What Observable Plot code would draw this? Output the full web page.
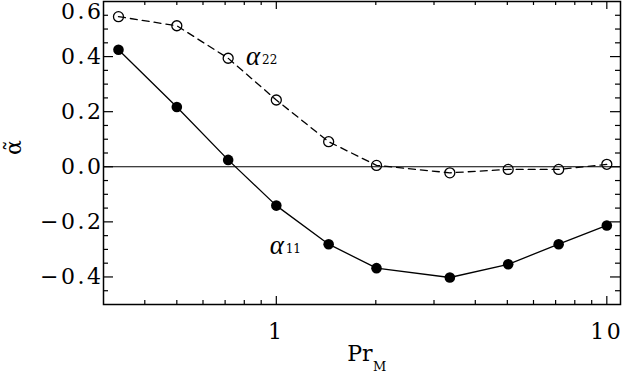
<!DOCTYPE html>
<html><head><meta charset="utf-8">
<script src="https://cdn.jsdelivr.net/npm/d3@7"></script>
<script src="https://cdn.jsdelivr.net/npm/@observablehq/plot@0.6"></script>
<style>
body{margin:0;background:#fff}
g[aria-label="y-axis tick label"] text, g[aria-label="x-axis tick label"] text {letter-spacing:2.5px}
</style>
</head><body><div id="chart"></div>
<script>
const prM    = [0.333, 0.5, 0.715, 1, 1.44, 2.01, 3.35, 5.03, 7.15, 10];
const alpha11 = [0.425, 0.217, 0.025, -0.141, -0.281, -0.368, -0.402, -0.354, -0.281, -0.213];
const alpha22 = [0.545, 0.512, 0.394, 0.2425, 0.091, 0.005, -0.022, -0.0095, -0.0095, 0.009];
const yLabelTicks = [-0.4, -0.2, 0, 0.2, 0.4];
const yTopLabel = [0.6];
const yMajor = [-0.4, -0.2, 0, 0.2, 0.4];
const yMinor = [-0.45, -0.35, -0.3, -0.25, -0.15, -0.1, -0.05, 0.05, 0.1, 0.15, 0.25, 0.3, 0.35, 0.45, 0.5, 0.55];
const xMajor = [1, 10];
const xMinor = [0.4, 0.5, 0.6, 0.7, 0.8, 0.9, 2, 3, 4, 5, 6, 7, 8, 9];
const seriesLabels = [
  {x: 0.81, y: 0.40, name: "α", sub: "22"},
  {x: 0.955, y: -0.286, name: "α", sub: "11"}
];

const d11 = prM.map((x, i) => ({x, y: alpha11[i]}));
const d22 = prM.map((x, i) => ({x, y: alpha22[i]}));
const fmt = d => d.toFixed(1).replace("-", "\u2212");
const FONT = "DejaVu Serif";
const H = 303, W = 517;

const chart = Plot.plot({
  width: 622, height: 376,
  marginLeft: 103, marginRight: 2, marginTop: 1, marginBottom: 72,
  style: {fontFamily: FONT, background: "#fff", color: "#000"},
  x: {type: "log", domain: [0.3, 11]},
  y: {domain: [-0.5, 0.6]},
  marks: [
    Plot.ruleY([0], {stroke: "#000", strokeWidth: 1.2}),
    Plot.ruleX(xMajor, {x: d => d, insetTop: H - 8, stroke: "#000", strokeWidth: 1.2}),
    Plot.ruleX(xMinor, {x: d => d, insetTop: H - 4, stroke: "#000", strokeWidth: 1.2}),
    Plot.ruleX(xMajor, {x: d => d, insetBottom: H - 8, stroke: "#000", strokeWidth: 1.2}),
    Plot.ruleX(xMinor, {x: d => d, insetBottom: H - 4, stroke: "#000", strokeWidth: 1.2}),
    Plot.ruleY(yMajor, {y: d => d, insetRight: W - 10, stroke: "#000", strokeWidth: 1.2}),
    Plot.ruleY(yMinor, {y: d => d, insetRight: W - 5, stroke: "#000", strokeWidth: 1.2}),
    Plot.ruleY(yMajor, {y: d => d, insetLeft: W - 10, stroke: "#000", strokeWidth: 1.2}),
    Plot.ruleY(yMinor, {y: d => d, insetLeft: W - 5, stroke: "#000", strokeWidth: 1.2}),
    Plot.axisY({ticks: yLabelTicks, tickSize: 0, tickPadding: 0, tickFormat: fmt, fontSize: 22, fontFamily: FONT, label: null}),
    Plot.axisY({ticks: yTopLabel, tickSize: 0, tickPadding: 0, tickFormat: fmt, fontSize: 22, fontFamily: FONT, dy: 10, label: null}),
    Plot.axisX({ticks: xMajor, tickSize: 0, tickPadding: 19, tickFormat: d => String(d), fontSize: 22, fontFamily: FONT, label: null}),
    Plot.line(d11, {x: "x", y: "y", stroke: "#000", strokeWidth: 1.3}),
    Plot.line(d22, {x: "x", y: "y", stroke: "#000", strokeWidth: 1.3, strokeDasharray: "7,5"}),
    Plot.dot(d11, {x: "x", y: "y", r: 5.3, fill: "#000", stroke: "none"}),
    Plot.dot(d22, {x: "x", y: "y", r: 5, fill: "#fff", fillOpacity: 0, stroke: "#000", strokeWidth: 1.3}),
    Plot.text(seriesLabels, {x: "x", y: "y", text: "name", textAnchor: "start", fontSize: 27, fontStyle: "italic", fontFamily: "Liberation Serif"}),
    Plot.text(seriesLabels, {x: "x", y: "y", text: "sub", textAnchor: "start", dx: 16, dy: 4, fontSize: 12, fontFamily: FONT}),
    Plot.text(["Pr"], {frameAnchor: "bottom", textAnchor: "end", dx: 10.5, dy: 56, fontSize: 22, fontFamily: FONT}),
    Plot.text(["M"], {frameAnchor: "bottom", textAnchor: "start", dx: 11, dy: 66, fontSize: 13, fontFamily: FONT}),
    Plot.text(["\u03b1\u0303"], {frameAnchor: "left", rotate: -90, dx: -90, dy: 2, fontSize: 22, fontFamily: FONT}),
    Plot.frame({stroke: "#000", strokeWidth: 1.5})
  ]
});
document.getElementById("chart").append(chart);
</script>
</body></html>
